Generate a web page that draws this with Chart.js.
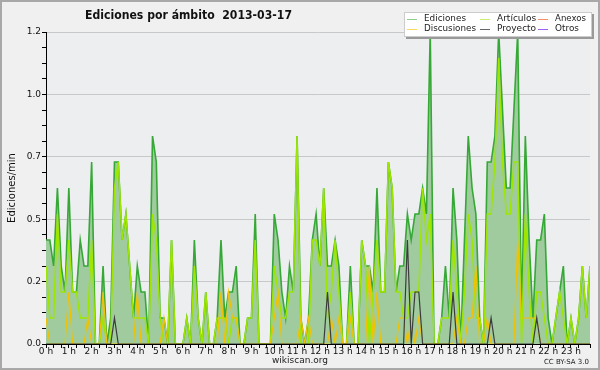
<!DOCTYPE html>
<html>
<head>
<meta charset="utf-8">
<script src="https://cdn.jsdelivr.net/npm/chart.js@4.4.7/dist/chart.umd.min.js"></script>
<style>
html, body { margin: 0; padding: 0; background: #f0f0f0; }
#wrap { width: 600px; height: 370px; position: relative; }
</style>
</head>
<body>
<div id="wrap"><canvas id="c" width="600" height="370"></canvas></div>
<script>
// 10-minute bins, edits per minute, one row per hour
var hourLabels = ["0 h", "1 h", "2 h", "3 h", "4 h", "5 h", "6 h", "7 h", "8 h", "9 h", "10 h", "11 h",
    "12 h", "13 h", "14 h", "15 h", "16 h", "17 h", "18 h", "19 h", "20 h", "21 h", "22 h", "23 h"];

var ediciones = [
    0.4, 0.4, 0.3, 0.6, 0.3, 0.2,
    0.6, 0.2, 0.2, 0.4, 0.3, 0.3,
    0.7, 0, 0, 0.3, 0, 0.1,
    0.7, 0.7, 0.4, 0.5, 0.3, 0.1,
    0.3, 0.2, 0.2, 0, 0.8, 0.7,
    0.1, 0.1, 0, 0.4, 0, 0,
    0, 0.1, 0, 0.4, 0.1, 0,
    0.2, 0, 0, 0.1, 0.4, 0.1,
    0.2, 0.2, 0.3, 0, 0, 0.1,
    0.1, 0.5, 0, 0, 0, 0,
    0.5, 0.4, 0.2, 0.1, 0.3, 0.2,
    0.8, 0.1, 0, 0.1, 0.4, 0.5,
    0.3, 0.6, 0.3, 0.3, 0.4, 0.3,
    0, 0, 0.3, 0, 0, 0.4,
    0.3, 0.3, 0.2, 0.6, 0.2, 0.2,
    0.7, 0.6, 0.2, 0.3, 0.3, 0.5,
    0.4, 0.5, 0.5, 0.6, 0.5, 1.2,
    0, 0, 0.1, 0.3, 0.1, 0.6,
    0.4, 0, 0.4, 0.8, 0.6, 0.5,
    0.1, 0, 0.7, 0.7, 0.8, 1.2,
    0.9, 0.6, 0.6, 0.9, 1.2, 0.1,
    0.8, 0.4, 0.1, 0.4, 0.4, 0.5,
    0.1, 0, 0.1, 0.2, 0.3, 0,
    0.1, 0, 0.1, 0.3, 0.1, 0.3
];

var articulos = [
    0.3, 0.1, 0.1, 0.5, 0.2, 0.2,
    0.4, 0.2, 0.2, 0.1, 0.1, 0.1,
    0.4, 0, 0, 0.1, 0, 0,
    0.6, 0.7, 0.4, 0.5, 0.3, 0.1,
    0.1, 0.1, 0.1, 0, 0.5, 0.4,
    0.1, 0, 0, 0.4, 0, 0,
    0, 0.1, 0, 0.3, 0.1, 0,
    0.2, 0, 0, 0.1, 0.1, 0.1,
    0, 0.1, 0.1, 0, 0, 0.1,
    0.1, 0.4, 0, 0, 0, 0,
    0.3, 0.2, 0.1, 0.1, 0.2, 0.2,
    0.8, 0, 0, 0, 0.4, 0.4,
    0.3, 0.6, 0.1, 0.2, 0.4, 0.2,
    0, 0, 0.2, 0, 0, 0.4,
    0.3, 0, 0.2, 0.4, 0.2, 0.2,
    0.7, 0.6, 0.2, 0.2, 0.1, 0.1,
    0.2, 0.2, 0.2, 0.6, 0.4, 0.5,
    0, 0, 0.1, 0.1, 0.1, 0.4,
    0.2, 0, 0.2, 0.5, 0.4, 0.1,
    0.1, 0, 0.5, 0.5, 0.7, 1.1,
    0.7, 0.5, 0.5, 0.7, 0.7, 0,
    0.5, 0.2, 0, 0.2, 0.2, 0.1,
    0, 0, 0.1, 0.2, 0.1, 0,
    0.1, 0, 0.1, 0.3, 0.1, 0.3
];

var discusiones = [
    0.1, 0, 0, 0, 0, 0,
    0.2, 0, 0, 0, 0, 0.1,
    0, 0, 0, 0.2, 0, 0,
    0, 0, 0, 0, 0, 0,
    0.2, 0, 0, 0, 0, 0,
    0, 0.1, 0, 0, 0, 0,
    0, 0, 0, 0, 0, 0,
    0, 0, 0, 0, 0.2, 0,
    0.2, 0.1, 0.1, 0, 0, 0,
    0, 0, 0, 0, 0, 0,
    0.1, 0.2, 0, 0, 0, 0,
    0, 0.1, 0, 0.1, 0, 0,
    0, 0, 0, 0.1, 0, 0.1,
    0, 0, 0.1, 0, 0, 0,
    0, 0.3, 0, 0.2, 0, 0,
    0, 0, 0, 0.1, 0.1, 0,
    0.1, 0, 0.1, 0, 0, 0,
    0, 0, 0, 0, 0, 0,
    0.1, 0, 0, 0.1, 0.1, 0.3,
    0, 0, 0.1, 0, 0, 0,
    0, 0, 0, 0, 0.4, 0.1,
    0.1, 0.1, 0.1, 0.1, 0, 0,
    0, 0, 0, 0, 0, 0,
    0, 0, 0, 0, 0, 0
];

var proyecto = [
    0, 0, 0, 0, 0, 0,
    0, 0, 0, 0, 0, 0,
    0, 0, 0, 0, 0, 0,
    0.1, 0, 0, 0, 0, 0,
    0, 0, 0, 0, 0, 0,
    0, 0, 0, 0, 0, 0,
    0, 0, 0, 0, 0, 0,
    0, 0, 0, 0, 0, 0,
    0, 0, 0, 0, 0, 0,
    0, 0, 0, 0, 0, 0,
    0, 0, 0, 0, 0, 0,
    0, 0, 0, 0, 0, 0,
    0, 0, 0.2, 0, 0, 0,
    0, 0, 0, 0, 0, 0,
    0, 0, 0, 0, 0, 0,
    0, 0, 0, 0, 0, 0.4,
    0, 0.2, 0.2, 0, 0, 0,
    0, 0, 0, 0, 0, 0.2,
    0, 0, 0, 0, 0, 0,
    0, 0, 0, 0.1, 0, 0,
    0, 0, 0, 0, 0, 0,
    0, 0, 0, 0.1, 0, 0,
    0, 0, 0, 0, 0, 0,
    0, 0, 0, 0, 0, 0
];

function pts(arr) {
    return arr.map(function (v, i) { return { x: i, y: v }; });
}

var FONT = "'DejaVu Sans', Verdana, sans-serif";

var decor = {
    id: "decor",
    beforeDraw: function (chart) {
        var ctx = chart.ctx, a = chart.chartArea;
        ctx.save();
        ctx.fillStyle = "#f0f0f0";
        ctx.fillRect(0, 0, 600, 370);
        ctx.fillStyle = "#eceef0";
        ctx.fillRect(a.left, a.top, a.right - a.left, a.bottom - a.top);
        ctx.strokeStyle = "#a8a8a8";
        ctx.lineWidth = 2;
        ctx.strokeRect(1, 1, 598, 368);
        ctx.restore();
    },
    afterDraw: function (chart) {
        var ctx = chart.ctx, a = chart.chartArea;
        ctx.save();
        // title
        ctx.fillStyle = "#111";
        ctx.font = "bold 13px " + FONT;
        ctx.textAlign = "left";
        ctx.textBaseline = "alphabetic";
        ctx.fillText("Ediciones por ámbito  2013-03-17", 85, 19, 207);

        // y title
        ctx.save();
        ctx.translate(12, (a.top + a.bottom) / 2);
        ctx.rotate(-Math.PI / 2);
        ctx.font = "10px " + FONT;
        ctx.textAlign = "center";
        ctx.textBaseline = "middle";
        ctx.fillText("Ediciones/min", 0, 0);
        ctx.restore();

        // footer
        ctx.fillStyle = "#222";
        ctx.font = "9px " + FONT;
        ctx.textAlign = "center";
        ctx.textBaseline = "middle";
        ctx.fillText("wikiscan.org", 300, 361);
        ctx.font = "7px " + FONT;
        ctx.textAlign = "right";
        ctx.fillText("CC BY-SA 3.0", 589, 362);

        // legend
        ctx.fillStyle = "#999";
        ctx.fillRect(406, 14, 188, 25);
        ctx.fillStyle = "#fff";
        ctx.fillRect(404, 12, 188, 25);
        ctx.strokeStyle = "#ccc";
        ctx.lineWidth = 1;
        ctx.strokeRect(404.5, 12.5, 187, 24);
        var cols = [407, 480, 538], rows = [19, 29];
        var widths = [42, 41, 31, 52, 40, 24];
        ctx.font = "9px " + FONT;
        ctx.textAlign = "left";
        ctx.textBaseline = "middle";
        chart.data.datasets.forEach(function (ds, k) {
            var x = cols[k % 3], y = rows[Math.floor(k / 3)];
            ctx.strokeStyle = ds.legendColor;
            ctx.lineWidth = 1;
            ctx.beginPath();
            ctx.moveTo(x, y + 0.5);
            ctx.lineTo(x + 10, y + 0.5);
            ctx.stroke();
            ctx.fillStyle = "#222";
            ctx.fillText(ds.label, x + 17, y, widths[k]);
        });
        ctx.restore();
    }
};

new Chart(document.getElementById("c"), {
    type: "line",
    data: {
        datasets: [
            { label: "Ediciones", data: pts(ediciones), borderColor: "#35a835", legendColor: "#8ccf8c",
              backgroundColor: "#9fcb9f", borderWidth: 1.6, fill: "origin", order: 4 },
            { label: "Artículos", data: pts(articulos), borderColor: "#9ee600", legendColor: "#c8f070",
              borderWidth: 1.5, fill: false, order: 3 },
            { label: "Anexos", data: [], borderColor: "#ff7a4a", legendColor: "#f5906a", fill: false, order: 5 },
            { label: "Discusiones", data: pts(discusiones), borderColor: "#f2c200", legendColor: "#f8d860",
              borderWidth: 1.2, fill: false, order: 2 },
            { label: "Proyecto", data: pts(proyecto), borderColor: "#3c3c3c", legendColor: "#666",
              borderWidth: 1.2, fill: false, order: 1 },
            { label: "Otros", data: [], borderColor: "#9a4ee8", legendColor: "#a060f0", fill: false, order: 6 }
        ]
    },
    options: {
        responsive: false,
        animation: false,
        layout: { padding: { left: 0, right: 10, top: 32, bottom: 0 } },
        elements: { point: { radius: 0 }, line: { tension: 0 } },
        plugins: { legend: { display: false }, tooltip: { enabled: false } },
        scales: {
            x: {
                type: "linear", min: 0, max: 143, z: 1,
                border: { color: "#000", width: 1 },
                grid: { drawOnChartArea: false, tickLength: 4, tickColor: "#000" },
                ticks: {
                    stepSize: 2, autoSkip: false, maxRotation: 0, padding: -2, color: "#111",
                    font: { family: FONT, size: 9 },
                    callback: function (v) { return v % 6 === 0 ? hourLabels[v / 6] : ""; }
                },
                afterFit: function (s) { s.height = 26; }
            },
            y: {
                min: 0, max: 1.2, z: 1,
                border: { color: "#000", width: 1 },
                grid: {
                    tickLength: 4, tickColor: "#000",
                    color: function (c) { return (c.index % 4 === 0 && c.index > 0) ? "#c8c8c8" : "rgba(0,0,0,0)"; }
                },
                ticks: {
                    stepSize: 0.06, autoSkip: false, padding: 1, color: "#111",
                    font: { family: FONT, size: 9 },
                    callback: function (v, i) { return i % 4 === 0 ? v.toFixed(1) : ""; }
                },
                afterFit: function (s) { s.width = 46; }
            }
        }
    },
    plugins: [decor]
});
</script>
</body>
</html>
